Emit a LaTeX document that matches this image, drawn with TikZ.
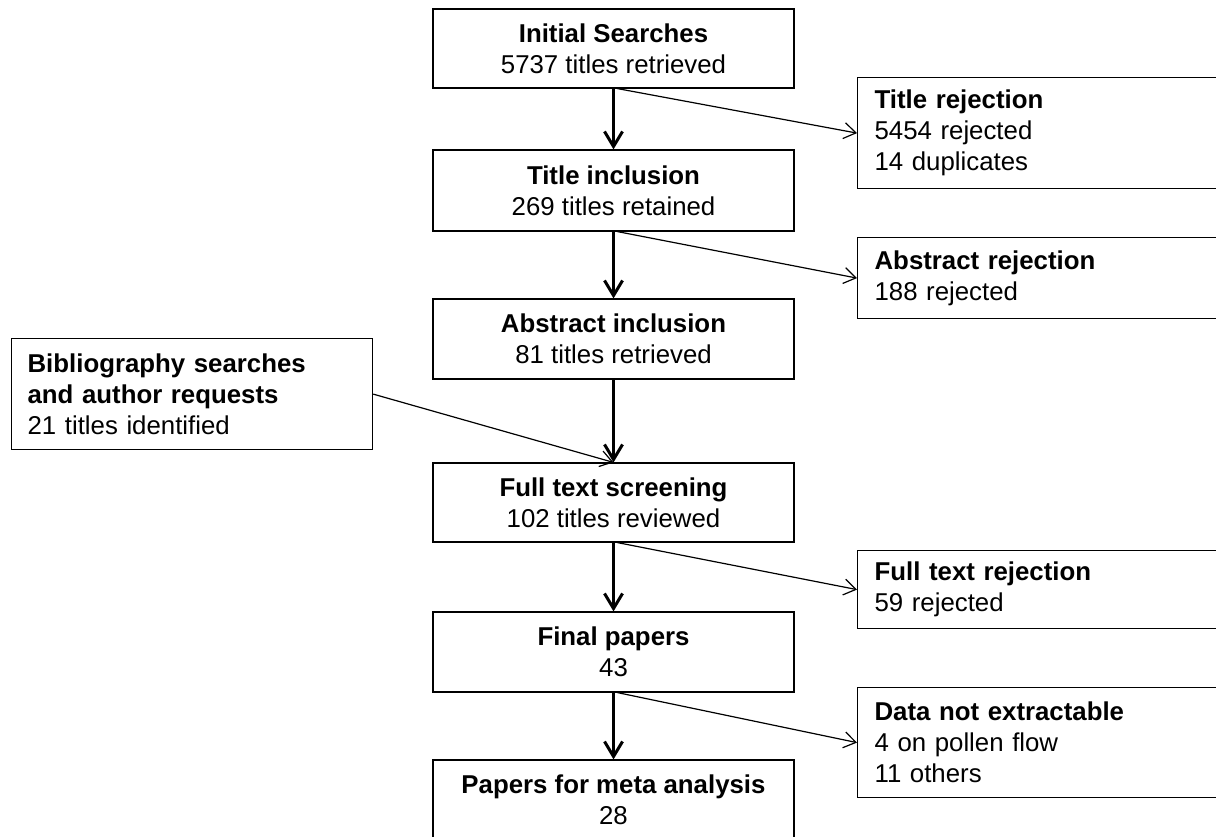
\documentclass[tikz,border=0pt]{standalone}
\usepackage{fontspec}
\setmainfont{Liberation Sans}
\usetikzlibrary{arrows.meta,calc}
\begin{document}
\begin{tikzpicture}[x=0.5pt,y=-0.5pt,
  txt/.style={font=\fontsize{12.9}{15.5}\selectfont},
  mainbox/.style={txt,draw,line width=0.6pt,minimum width=180.5pt,inner sep=0pt,align=center},
  sidebox/.style={txt,draw,line width=0.6pt,anchor=north west,text width=169.5pt,inner xsep=8.5pt,inner ysep=0pt,align=left},
  leftbox/.style={txt,draw,line width=0.6pt,anchor=north west,text width=164.5pt,inner xsep=8pt,inner ysep=0pt,align=left},
  mainarrow/.style={line width=1.5pt,-{Straight Barb[length=7.5pt,width=9pt,line width=1.5pt]}},
  sidearrow/.style={line width=0.6pt,-{Straight Barb[length=6pt,width=8pt,line width=0.6pt]}}
]
\useasboundingbox (0,0) rectangle (1216,836);
% main column
\node[mainbox,minimum height=39.5pt] (b1) at (613.5,48.5) {\textbf{Initial Searches}\\5737 titles retrieved};
\node[mainbox,minimum height=40.5pt] (b2) at (613.5,190.5) {\textbf{Title inclusion}\\269 titles retained};
\node[mainbox,minimum height=40pt] (b3) at (613.5,339) {\textbf{Abstract inclusion}\\81 titles retrieved};
\node[mainbox,minimum height=39.5pt] (b4) at (613.5,502.5) {\textbf{Full text screening}\\102 titles reviewed};
\node[mainbox,minimum height=40pt] (b5) at (613.5,652) {\textbf{Final papers}\\43};
\node[mainbox,minimum height=40pt] (b6) at (613.5,800) {\textbf{Papers for meta analysis}\\28};
% side boxes
\node[sidebox,minimum height=55.5pt] (r1) at (857,77) {\textbf{Title rejection}\\5454 rejected\\14 duplicates};
\node[sidebox,minimum height=40.5pt] (r2) at (857,237) {\textbf{Abstract rejection}\\188 rejected};
\node[sidebox,minimum height=39pt] (r3) at (857,550) {\textbf{Full text rejection}\\59 rejected};
\node[sidebox,minimum height=55pt] (r4) at (857,687) {\textbf{Data not extractable}\\4 on pollen flow\\11 others};
\node[leftbox,minimum height=55.5pt] (lb) at (11,338) {\textbf{Bibliography searches}\\\textbf{and author requests}\\21 titles identified};
% connectors
\draw[mainarrow] (b1) -- (b2);
\draw[mainarrow] (b2) -- (b3);
\draw[mainarrow] (b3) -- (b4);
\draw[mainarrow] (b4) -- (b5);
\draw[mainarrow] (b5) -- (b6);
\draw[sidearrow] ($(b1.south)+(4,0)$) -- (r1.west);
\draw[sidearrow] ($(b2.south)+(4,0)$) -- (r2.west);
\draw[sidearrow] ($(b4.south)+(4,0)$) -- (r3.west);
\draw[sidearrow] ($(b5.south)+(4,0)$) -- (r4.west);
\draw[sidearrow] (lb.east) -- (b4.north);
\end{tikzpicture}
\end{document}
